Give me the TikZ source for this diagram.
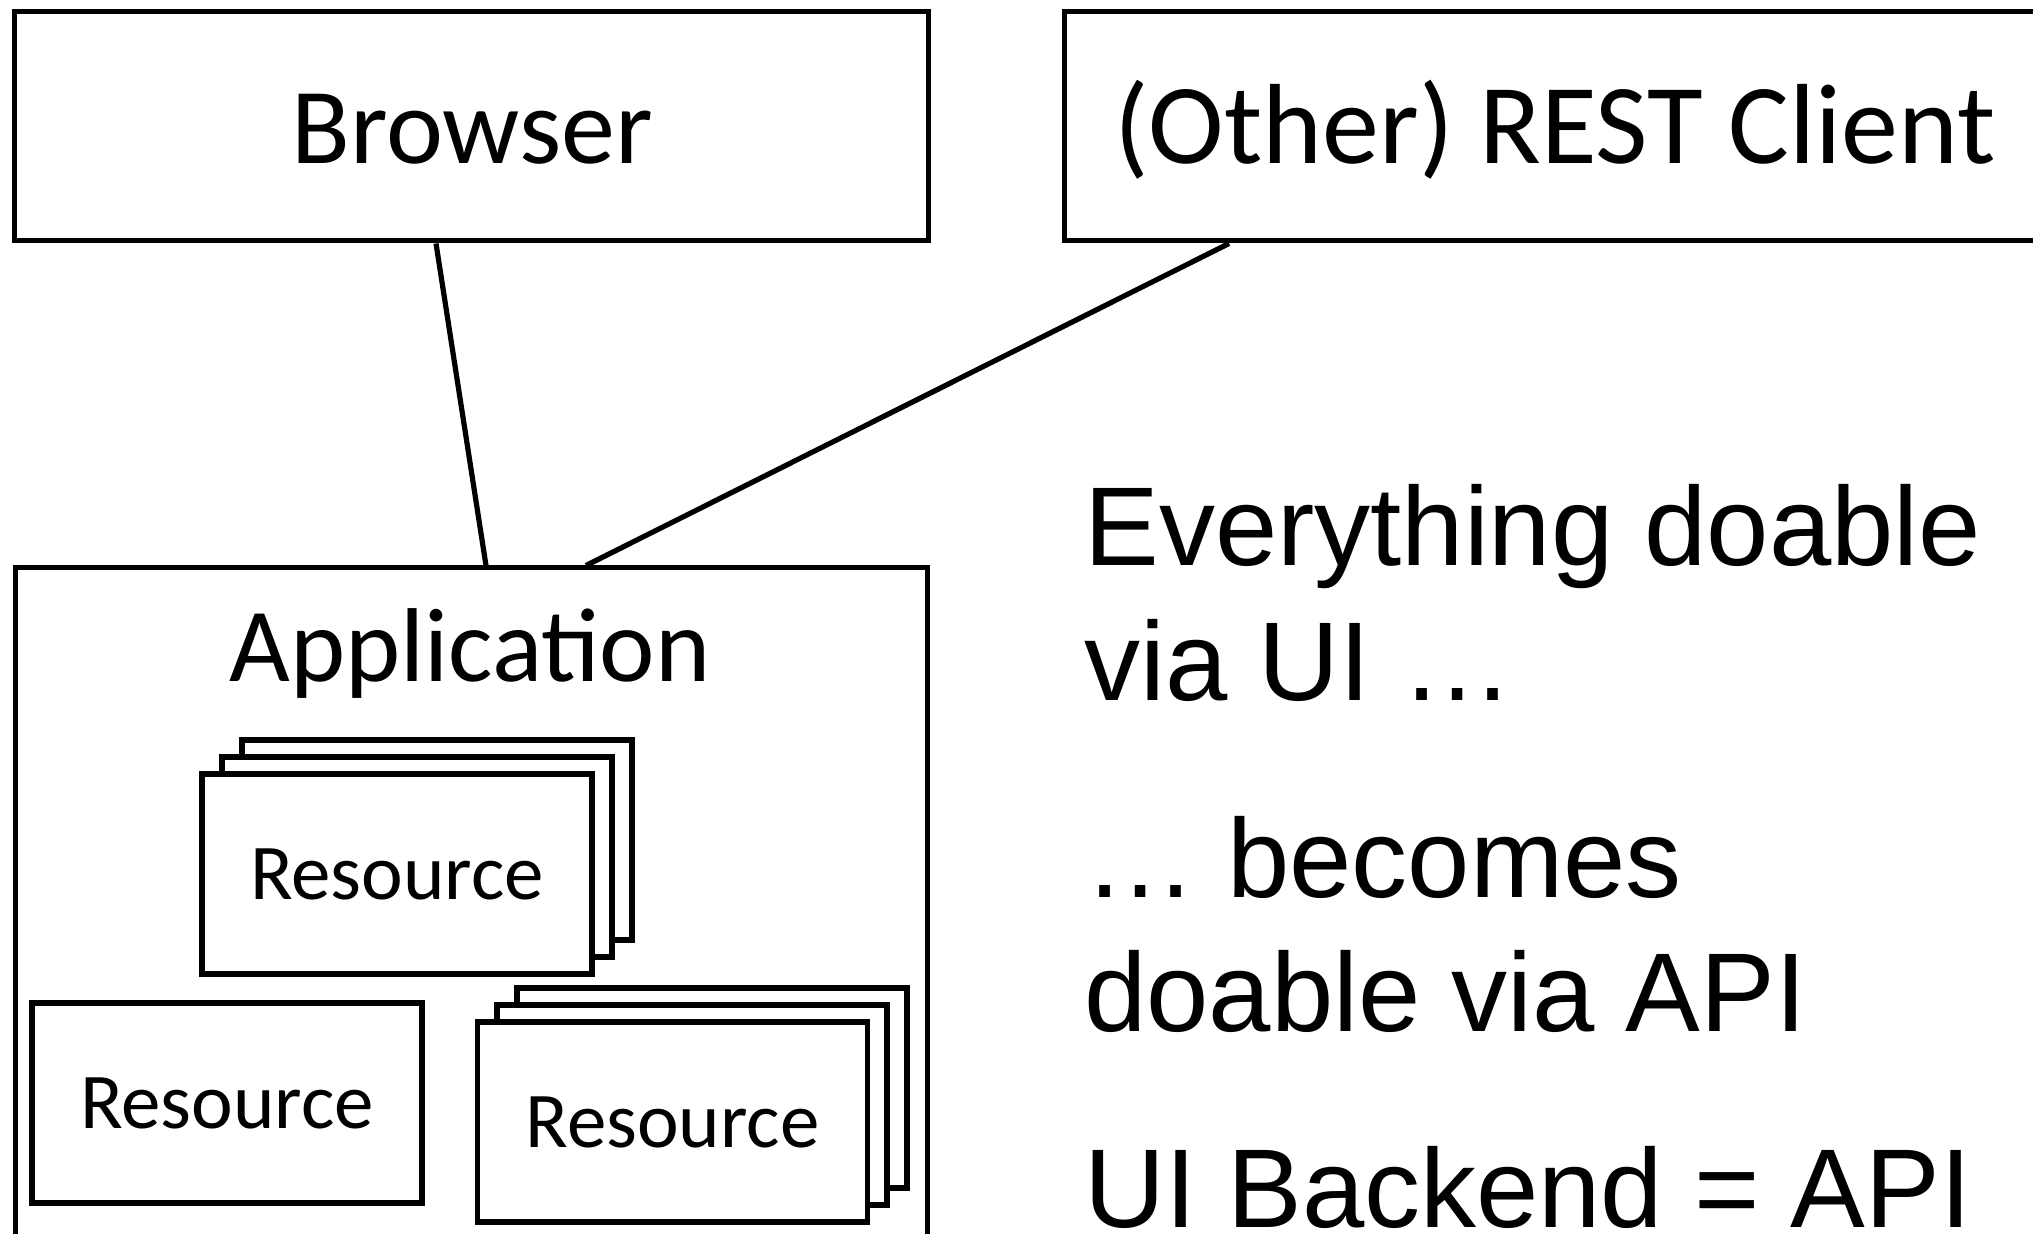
\documentclass[tikz,border=0pt]{standalone}
\usepackage{fontspec}
\newfontfamily\gill{Carlito}
\newfontfamily\helv{Liberation Sans}
\tikzset{
  bigbox/.style={draw=black, line width=2.5pt, fill=white, inner sep=0pt},
  resbox/.style={draw=black, line width=2.6pt, fill=white, inner sep=0pt,
    minimum width=195pt, minimum height=100pt, font=\gill\fontsize{39.5}{44}\selectfont},
  conn/.style={draw=black, line width=2.6pt},
  bigtext/.style={inner sep=0pt, anchor=base},
  sidetext/.style={inner sep=0pt, anchor=base west, font=\helv\fontsize{56}{60}\selectfont}
}
\begin{document}
\begin{tikzpicture}[x=0.5pt, y=-0.5pt]
\clip (0,0) rectangle (2033,1234);
\fill[white] (0,0) rectangle (2033,1234);

% top boxes
\node[bigbox, minimum width=457pt, minimum height=114.5pt] (browser) at (471,126.5) {};
\node[bigtext, font=\gill\fontsize{54}{60}\selectfont] (browserlabel) at (472,164) {Browser};
\node[bigbox, minimum width=508pt, minimum height=114.5pt] (rest) at (1572,126.5) {};
\node[bigtext, font=\gill\fontsize{57}{62}\selectfont] (restlabel) at (1555,164) {(Other) REST Client};

% application box
\node[bigbox, minimum width=456pt, minimum height=366pt] (app) at (471,934) {};
\node[bigtext, font=\gill\fontsize{52.5}{58}\selectfont] (applabel) at (470,682) {Application};

% resource stack 1
\node[resbox] (r1c) at (437,840) {};
\node[resbox] (r1b) at (417,857) {};
\node[resbox] (r1) at (397,874) {Resource};

% lone resource
\node[resbox] (r2) at (227,1103) {Resource};

% resource stack 3
\node[resbox] (r3c) at (712,1088) {};
\node[resbox] (r3b) at (692,1105) {};
\node[resbox] (r3) at (672.5,1122) {Resource};

% connectors
\draw[conn] ([xshift=-17.5pt]browser.south) -- ([xshift=7.5pt]app.north);
\draw[conn] ([xshift=-171.5pt]rest.south) -- ([xshift=57.5pt]app.north);

% side text
\node[sidetext] (t1) at (1084,566) {Everything doable};
\node[sidetext] (t2) at (1084,700) {via UI …};
\node[sidetext] (t3) at (1084,897) {… becomes};
\node[sidetext] (t4) at (1084,1031) {doable via API};
\node[sidetext] (t5) at (1084,1227) {UI Backend = API};
\end{tikzpicture}
\end{document}
